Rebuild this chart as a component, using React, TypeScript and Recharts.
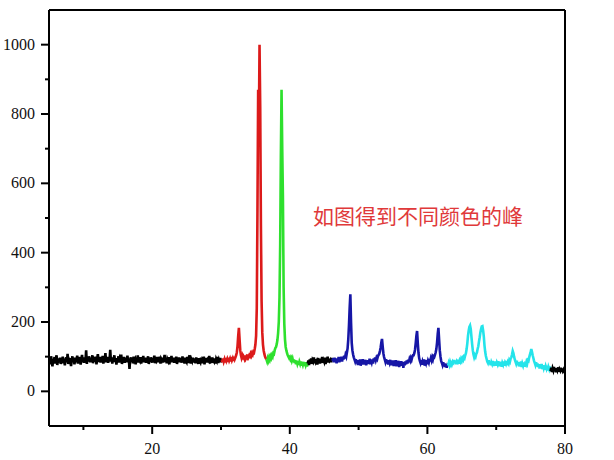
import React from "react";
import { LineChart, Line, XAxis, YAxis, ReferenceLine } from "recharts";

// 2θ grid: 5.0 → 80.0, step 0.1 (one row = one degree)
const X_START = 5;
const X_STEP = 0.1;

// intensity
const INTENSITY = [
  84, 96, 78, 101, 88, 72, 93, 85, 99, 80, // 5
  91, 104, 76, 89, 95, 83, 97, 79, 92, 86, // 6
  100, 81, 94, 75, 90, 98, 84, 108, 79, 92, // 7
  87, 96, 73, 89, 101, 85, 93, 78, 97, 88, // 8
  91, 103, 80, 95, 86, 99, 77, 92, 105, 84, // 9
  94, 82, 98, 88, 118, 79, 96, 86, 101, 90, // 10
  84, 97, 89, 104, 81, 95, 92, 86, 100, 78, // 11
  94, 107, 85, 91, 99, 83, 96, 88, 102, 80, // 12
  95, 87, 110, 84, 93, 99, 82, 97, 89, 120, // 13
  86, 94, 80, 98, 91, 104, 85, 92, 77, 96, // 14
  88, 101, 83, 95, 90, 106, 79, 93, 86, 99, // 15
  82, 97, 91, 84, 103, 87, 94, 65, 92, 98, // 16
  85, 96, 81, 100, 89, 93, 78, 97, 86, 104, // 17
  83, 92, 88, 99, 80, 95, 87, 102, 84, 91, // 18
  97, 82, 94, 88, 101, 79, 92, 85, 98, 90, // 19
  83, 96, 87, 103, 81, 93, 89, 99, 84, 95, // 20
  86, 100, 80, 94, 90, 97, 83, 92, 105, 85, // 21
  96, 81, 93, 88, 99, 78, 95, 87, 102, 84, // 22
  91, 97, 82, 95, 88, 100, 79, 93, 86, 98, // 23
  84, 96, 90, 83, 101, 87, 94, 80, 97, 89, // 24
  85, 99, 82, 93, 88, 104, 80, 92, 87, 97, // 25
  83, 95, 89, 81, 98, 86, 93, 79, 96, 88, // 26
  84, 97, 81, 92, 89, 100, 78, 94, 86, 96, // 27
  83, 91, 88, 102, 80, 93, 85, 98, 82, 90, // 28
  86, 95, 80, 93, 88, 99, 82, 91, 85, 96, // 29
  84, 90, 84, 95, 86, 92, 83, 96, 88, 93, // 30
  85, 97, 89, 94, 86, 99, 90, 95, 88, 100, // 31
  93, 98, 104, 112, 130, 160, 183, 150, 118, 104, // 32
  96, 102, 92, 99, 94, 103, 95, 100, 97, 106, // 33
  99, 104, 101, 108, 103, 110, 106, 114, 112, 122, // 34
  135, 160, 240, 520, 870, 760, 1000, 820, 480, 260, // 35
  170, 135, 118, 108, 100, 96, 92, 86, 95, 89, // 36
  98, 92, 101, 96, 104, 100, 110, 108, 118, 125, // 37
  128, 136, 148, 168, 200, 270, 420, 680, 870, 700, // 38
  560, 300, 195, 150, 128, 118, 110, 104, 100, 96, // 39
  99, 92, 96, 88, 94, 85, 92, 82, 90, 78, // 40
  88, 80, 87, 76, 85, 79, 86, 74, 84, 77, // 41
  85, 73, 83, 76, 84, 72, 80, 89, 76, 92, // 42
  83, 95, 79, 90, 86, 98, 81, 93, 84, 88, // 43
  77, 96, 85, 91, 80, 94, 87, 99, 82, 90, // 44
  85, 97, 79, 92, 86, 100, 83, 94, 88, 91, // 45
  84, 96, 88, 95, 84, 97, 86, 93, 81, 95, // 46
  87, 99, 84, 96, 89, 100, 86, 98, 92, 103, // 47
  95, 105, 100, 112, 124, 150, 190, 240, 280, 200, // 48
  140, 118, 106, 98, 92, 86, 93, 80, 90, 76, // 49
  88, 79, 92, 74, 86, 80, 93, 77, 88, 81, // 50
  91, 75, 87, 79, 90, 82, 94, 78, 89, 83, // 51
  92, 80, 95, 86, 98, 90, 97, 93, 101, 105, // 52
  108, 116, 126, 140, 151, 130, 110, 99, 92, 85, // 53
  93, 80, 90, 77, 88, 82, 91, 75, 86, 79, // 54
  89, 73, 85, 78, 90, 72, 84, 77, 88, 70, // 55
  83, 76, 87, 74, 85, 68, 82, 75, 86, 78, // 56
  89, 80, 91, 84, 93, 88, 96, 91, 99, 104, // 57
  104, 110, 120, 138, 160, 174, 140, 112, 96, 88, // 58
  82, 90, 77, 86, 80, 92, 74, 87, 81, 90, // 59
  78, 88, 83, 93, 86, 95, 89, 98, 92, 101, // 60
  99, 105, 112, 122, 140, 165, 183, 150, 118, 100, // 61
  88, 82, 76, 84, 72, 80, 70, 78, 68, 76, // 62
  74, 82, 76, 85, 79, 88, 80, 86, 83, 90, // 63
  81, 88, 78, 87, 84, 91, 80, 89, 85, 93, // 64
  88, 95, 91, 99, 96, 104, 110, 122, 138, 160, // 65
  175, 186, 190, 180, 158, 136, 118, 106, 98, 104, // 66
  100, 108, 112, 122, 130, 144, 156, 170, 180, 187, // 67
  188, 176, 158, 132, 114, 102, 94, 86, 82, 90, // 68
  78, 86, 75, 84, 79, 88, 73, 85, 77, 86, // 69
  74, 83, 78, 87, 72, 84, 76, 85, 71, 82, // 70
  77, 86, 74, 83, 79, 88, 75, 84, 80, 90, // 71
  86, 95, 98, 106, 116, 110, 100, 92, 86, 80, // 72
  88, 76, 84, 72, 82, 75, 86, 70, 80, 74, // 73
  83, 71, 79, 76, 85, 80, 90, 88, 98, 106, // 74
  112, 122, 114, 104, 96, 88, 82, 76, 84, 72, // 75
  80, 70, 78, 66, 76, 69, 79, 64, 74, 67, // 76
  75, 62, 72, 66, 74, 60, 70, 64, 72, 58, // 77
  68, 56, 66, 60, 70, 58, 65, 55, 67, 61, // 78
  69, 57, 64, 60, 68, 56, 66, 59, 63, 58, // 79
  62, // 80
];

// coloured ranges of the pattern
const SEGMENT_BOUNDS = [5, 30.1, 36.6, 42.6, 46.2, 63.0, 77.9, 80];
const SEGMENT_COLORS = ["#000000", "#dc1a1a", "#2ee02e", "#000000", "#1616a6", "#24e4ea", "#000000"];

const X_TICKS = [10, 20, 30, 40, 50, 60, 70, 80];
const X_LABELS = [20, 40, 60, 80];
const Y_TICKS = [0, 100, 200, 300, 400, 500, 600, 700, 800, 900, 1000];
const Y_LABELS = [0, 200, 400, 600, 800, 1000];

const NOTE = "如图得到不同颜色的峰";

const points = INTENSITY.map((y, i) => ({
  x: Math.round((X_START + i * X_STEP) * 10) / 10,
  y,
}));

const segments = SEGMENT_COLORS.map((color, i) => ({
  color,
  data: points.filter(
    (p) => p.x >= SEGMENT_BOUNDS[i] - 1e-6 && p.x <= SEGMENT_BOUNDS[i + 1] + 1e-6
  ),
}));

const labelStyle = { fontFamily: "'Liberation Serif', 'DejaVu Serif', serif", fontSize: 16 };

const XTick = (props: any) => {
  const { x, y, payload } = props;
  const major = X_LABELS.includes(payload.value);
  return (
    <g>
      <line x1={x} x2={x} y1={y} y2={y + (major ? 8 : 4)} stroke="#000" strokeWidth={2} />
      {major && (
        <text x={x} y={y + 28} textAnchor="middle" fill="#111" style={labelStyle}>
          {payload.value}
        </text>
      )}
    </g>
  );
};

const YTick = (props: any) => {
  const { x, y, payload } = props;
  const major = Y_LABELS.includes(payload.value);
  return (
    <g>
      <line x1={x} x2={x - (major ? 8 : 4)} y1={y} y2={y} stroke="#000" strokeWidth={2} />
      {major && (
        <text x={x - 14} y={y + 5} textAnchor="end" fill="#111" style={labelStyle}>
          {payload.value}
        </text>
      )}
    </g>
  );
};

export default function App() {
  return (
    <div style={{ position: "absolute", left: 0, top: 0, width: 614, height: 460, background: "#fff" }}>
      <LineChart width={614} height={460} margin={{ top: 10, right: 49, left: 0, bottom: 0 }}>
        <XAxis
          dataKey="x"
          type="number"
          domain={[5, 80]}
          ticks={X_TICKS}
          interval={0}
          allowDataOverflow
          height={34}
          tickSize={0}
          tickMargin={0}
          tickLine={false}
          axisLine={{ stroke: "#000", strokeWidth: 2 }}
          tick={<XTick />}
        />
        <YAxis
          type="number"
          domain={[-100, 1100]}
          ticks={Y_TICKS}
          interval={0}
          allowDataOverflow
          width={49}
          tickSize={0}
          tickMargin={0}
          tickLine={false}
          axisLine={{ stroke: "#000", strokeWidth: 2 }}
          tick={<YTick />}
        />
        <ReferenceLine y={1100} stroke="#000" strokeWidth={2} />
        <ReferenceLine x={80} stroke="#000" strokeWidth={2} />
        {segments.map((s, i) => (
          <Line
            key={i}
            data={s.data}
            dataKey="y"
            stroke={s.color}
            strokeWidth={2.6}
            dot={false}
            isAnimationActive={false}
          />
        ))}
      </LineChart>
      <div
        style={{
          position: "absolute",
          left: 313,
          top: 205,
          fontFamily: "'Noto Sans CJK SC', sans-serif",
          fontSize: 21,
          lineHeight: "21px",
          color: "#e0393a",
          whiteSpace: "nowrap",
        }}
      >
        {NOTE}
      </div>
    </div>
  );
}
